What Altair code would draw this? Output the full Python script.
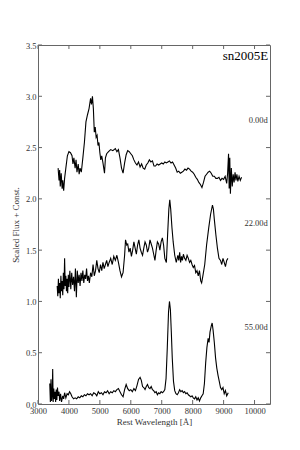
import altair as alt
import pandas as pd

# ---- data ----
wl_0d = [3650,3680,3700,3720,3750,3780,3800,3830,3860,3900,3950,4000,4050,4100,4130,4160,4200,4230,4260,4300,
         4330,4360,4400,4450,4500,4550,4600,4650,4700,4730,4760,4790,4820,4850,4880,4910,4940,4970,5000,5030,
         5060,5100,5150,5180,5220,5280,5350,5420,5500,5550,5600,5650,5700,5750,5800,5850,5900,5950,6000,6050,
         6100,6150,6200,6250,6300,6350,6400,6450,6500,6550,6600,6650,6700,6750,6800,6850,6900,6950,7000,7050,
         7100,7150,7200,7250,7300,7350,7400,7450,7500,7550,7600,7650,7700,7750,7800,7850,7900,7950,8000,8050,
         8100,8150,8200,8250,8300,8350,8400,8450,8500,8550,8600,8650,8700,8750,8800,8850,8900,8950,9000,9050,
         9100,9130,9160,9180,9200,9220,9250,9280,9310,9340,9370,9400,9430,9460,9500,9540,9580]
fx_0d = [2.30,2.18,2.28,2.12,2.25,2.10,2.18,2.08,2.20,2.30,2.42,2.46,2.45,2.42,2.34,2.40,2.30,2.38,2.26,2.34,
         2.24,2.30,2.26,2.40,2.55,2.75,2.82,2.88,2.98,2.92,3.00,2.88,2.65,2.70,2.60,2.62,2.52,2.55,2.45,2.38,
         2.42,2.35,2.25,2.40,2.44,2.46,2.48,2.47,2.49,2.46,2.48,2.40,2.30,2.25,2.35,2.43,2.47,2.46,2.44,2.42,
         2.38,2.35,2.33,2.36,2.31,2.34,2.30,2.29,2.33,2.35,2.38,2.36,2.37,2.32,2.32,2.34,2.33,2.34,2.35,2.34,
         2.36,2.35,2.36,2.37,2.35,2.36,2.33,2.30,2.26,2.27,2.25,2.26,2.27,2.29,2.28,2.30,2.29,2.27,2.26,2.24,
         2.21,2.19,2.16,2.14,2.11,2.16,2.22,2.24,2.26,2.27,2.25,2.22,2.22,2.20,2.20,2.21,2.18,2.20,2.19,2.22,
         2.15,2.25,2.44,2.10,2.40,2.05,2.30,2.12,2.24,2.16,2.26,2.18,2.24,2.17,2.22,2.18,2.21]

wl_22d = [3620,3640,3660,3680,3700,3720,3740,3760,3780,3800,3820,3840,3860,3880,3900,3920,3940,3960,3980,4000,
          4030,4060,4090,4120,4150,4180,4210,4240,4270,4300,4330,4360,4390,4420,4450,4480,4510,4540,4570,4600,
          4630,4660,4700,4740,4780,4820,4860,4900,4940,4980,5020,5060,5100,5140,5180,5220,5260,5300,5350,5400,
          5450,5500,5550,5600,5650,5700,5750,5800,5830,5870,5900,5940,5980,6020,6060,6100,6140,6180,6220,6260,
          6300,6340,6380,6420,6460,6500,6540,6580,6620,6660,6700,6740,6780,6820,6860,6900,6940,6980,7020,7060,
          7100,7150,7190,7230,7260,7290,7330,7370,7420,7470,7520,7550,7580,7610,7640,7670,7700,7740,7780,7820,
          7860,7900,7940,7980,8020,8060,8100,8140,8180,8220,8260,8290,8330,8390,8450,8520,8580,8640,8670,8700,
          8750,8800,8850,8900,8940,8980,9020,9060,9100,9140]
fx_22d = [1.15,1.05,1.22,1.08,1.18,1.03,1.25,1.10,1.20,1.06,1.28,1.12,1.42,1.15,1.25,1.10,1.22,1.08,1.26,1.14,
          1.30,1.12,1.28,1.16,1.24,1.10,1.32,1.04,1.30,1.18,1.26,1.15,1.28,1.20,1.30,1.18,1.26,1.22,1.32,1.20,
          1.25,1.18,1.28,1.24,1.36,1.25,1.30,1.40,1.32,1.28,1.36,1.30,1.38,1.32,1.36,1.40,1.34,1.38,1.42,1.36,
          1.44,1.40,1.45,1.38,1.30,1.24,1.28,1.45,1.60,1.55,1.56,1.48,1.52,1.44,1.50,1.58,1.52,1.46,1.55,1.60,
          1.52,1.48,1.45,1.52,1.58,1.55,1.48,1.52,1.60,1.56,1.52,1.46,1.40,1.50,1.58,1.56,1.50,1.58,1.62,1.55,
          1.42,1.38,1.65,1.90,1.99,1.90,1.72,1.58,1.45,1.38,1.45,1.40,1.48,1.38,1.44,1.40,1.46,1.42,1.40,1.45,
          1.42,1.38,1.40,1.36,1.33,1.35,1.28,1.30,1.25,1.30,1.20,1.18,1.25,1.36,1.55,1.72,1.85,1.94,1.90,1.80,
          1.65,1.52,1.42,1.40,1.36,1.42,1.38,1.34,1.40,1.42]

wl_55d = [3380,3400,3420,3440,3460,3475,3490,3510,3530,3550,3570,3590,3610,3630,3650,3680,3700,3730,3760,3800,
          3830,3860,3900,3940,3980,4020,4060,4100,4150,4200,4250,4300,4350,4400,4450,4500,4550,4600,4650,4700,
          4750,4800,4850,4900,4950,5000,5050,5100,5150,5200,5250,5300,5350,5400,5450,5500,5550,5600,5650,5700,
          5750,5800,5850,5900,5950,6000,6050,6100,6150,6200,6250,6300,6340,6380,6420,6460,6500,6540,6580,6620,
          6660,6700,6740,6780,6820,6860,6900,6940,6980,7020,7060,7100,7140,7180,7220,7250,7280,7310,7340,7380,
          7420,7460,7500,7540,7580,7620,7660,7700,7740,7780,7820,7860,7900,7940,7980,8020,8060,8100,8140,8180,
          8220,8260,8300,8340,8380,8420,8460,8500,8530,8560,8600,8630,8660,8700,8740,8780,8820,8860,8900,8940,
          8980,9020,9060,9100,9150]
fx_55d = [0.20,0.02,0.24,0.03,0.10,0.34,0.02,0.15,0.05,0.12,0.02,0.14,0.04,0.16,0.08,0.12,0.03,0.10,0.02,0.08,
          0.05,0.11,0.06,0.10,0.09,0.12,0.10,0.07,0.05,0.06,0.05,0.07,0.06,0.08,0.07,0.09,0.08,0.10,0.09,0.10,
          0.08,0.11,0.10,0.08,0.12,0.10,0.11,0.09,0.12,0.11,0.13,0.10,0.12,0.11,0.13,0.12,0.14,0.15,0.12,0.09,
          0.07,0.14,0.19,0.15,0.13,0.14,0.12,0.15,0.13,0.18,0.24,0.26,0.23,0.17,0.16,0.14,0.17,0.19,0.16,0.15,
          0.17,0.14,0.13,0.11,0.12,0.09,0.11,0.10,0.12,0.11,0.12,0.14,0.25,0.55,0.90,1.00,0.92,0.70,0.45,0.22,
          0.13,0.10,0.09,0.11,0.14,0.12,0.13,0.11,0.12,0.10,0.11,0.09,0.08,0.07,0.08,0.06,0.05,0.07,0.04,0.06,
          0.03,0.06,0.08,0.10,0.20,0.40,0.55,0.64,0.60,0.70,0.76,0.79,0.72,0.60,0.45,0.35,0.28,0.22,0.16,0.14,
          0.16,0.10,0.13,0.08,0.11]

epoch_labels = ["0.00d", "22.00d", "55.00d"]
epoch_label_y = [2.77, 1.76, 0.75]
title_text = "sn2005E"
x_ticks = [3000, 4000, 5000, 6000, 7000, 8000, 9000, 10000]
y_ticks = [0.0, 0.5, 1.0, 1.5, 2.0, 2.5, 3.0, 3.5]

# ---- tables ----
rows = []
for name, wls, fxs in [("0.00d", wl_0d, fx_0d), ("22.00d", wl_22d, fx_22d), ("55.00d", wl_55d, fx_55d)]:
    for w, f in zip(wls, fxs):
        rows.append({"wl": w, "flux": f, "epoch": name})
spec = pd.DataFrame(rows)
labels_df = pd.DataFrame({"wl": [10430] * 3, "flux": epoch_label_y, "text": epoch_labels})
title_df = pd.DataFrame({"wl": [10440], "flux": [3.39], "text": [title_text]})
xt = pd.DataFrame({"wl": x_ticks})
yt = pd.DataFrame({"flux": y_ticks})

W, H = 232, 359
FONT = "Liberation Serif"
GREY = "#333333"
FRAME = "#666666"

xscale = alt.Scale(domain=[3000, 10500], nice=False, zero=False)
yscale = alt.Scale(domain=[0, 3.5], nice=False, zero=False)

XTITLE = "Rest Wavelength [Å]"
YTITLE = "Scaled Flux + Const."

xaxis = alt.Axis(values=x_ticks, format="d", title=XTITLE,
                 ticks=False, domain=False, grid=False, labelPadding=2,
                 labelFlush=False, labelOverlap=False, labelFont=FONT,
                 labelFontSize=8.5, labelColor=GREY, titleFont=FONT,
                 titleFontSize=9, titleFontWeight="normal", titleColor=GREY,
                 titlePadding=3)
yaxis = alt.Axis(values=y_ticks, format=".1f", title=YTITLE,
                 ticks=False, domain=False, grid=False, labelPadding=2,
                 labelFlush=False, labelOverlap=False, labelFont=FONT,
                 labelFontSize=8.5, labelColor=GREY, titleFont=FONT,
                 titleFontSize=9, titleFontWeight="normal", titleColor=GREY,
                 titlePadding=5)

X = alt.X("wl:Q", scale=xscale, axis=xaxis, title=XTITLE)
Y = alt.Y("flux:Q", scale=yscale, axis=yaxis, title=YTITLE)

lines = alt.Chart(spec).mark_line(color="black", strokeWidth=1.1).encode(
    x=X, y=Y, detail="epoch:N",
)

tick_bottom = alt.Chart(xt).mark_rule(color=FRAME, strokeWidth=1).encode(
    x=X, y=alt.value(H), y2=alt.value(H - 4))
tick_top = alt.Chart(xt).mark_rule(color=FRAME, strokeWidth=1).encode(
    x=X, y=alt.value(0), y2=alt.value(4))
tick_left = alt.Chart(yt).mark_rule(color=FRAME, strokeWidth=1).encode(
    y=Y, x=alt.value(0), x2=alt.value(4))
tick_right = alt.Chart(yt).mark_rule(color=FRAME, strokeWidth=1).encode(
    y=Y, x=alt.value(W), x2=alt.value(W - 4))

epoch_text = alt.Chart(labels_df).mark_text(
    align="right", baseline="middle", font=FONT, fontSize=8.5, color=GREY).encode(
    x=X, y=Y, text="text:N")
name_text = alt.Chart(title_df).mark_text(
    align="right", baseline="middle", font=FONT, fontSize=13, color="black").encode(
    x=X, y=Y, text="text:N")

chart = alt.layer(lines, tick_bottom, tick_top, tick_left, tick_right, epoch_text, name_text).properties(
    width=W, height=H,
    autosize=alt.AutoSizeParams(type="none"),
    padding={"left": 30, "top": 37, "right": 22, "bottom": 30},
).configure_view(stroke=FRAME, strokeWidth=1)

chart.save("out.html", embed_options={"renderer": "svg", "actions": False})
